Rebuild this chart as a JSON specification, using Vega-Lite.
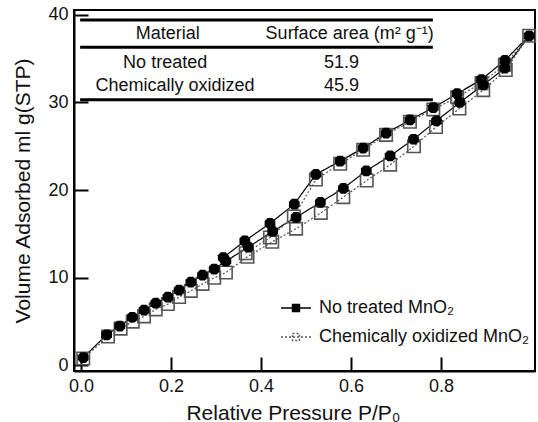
{
  "$schema": "https://vega.github.io/schema/vega-lite/v6.json",
  "width": 461,
  "height": 361,
  "autosize": {"type": "none"},
  "padding": {"left": 74, "top": 10, "right": 3, "bottom": 51},
  "background": "white",
  "config": {
    "font": "Liberation Sans",
    "view": {"stroke": "black", "strokeWidth": 2},
    "axis": {
      "domainColor": "black", "domainWidth": 2, "tickColor": "black", "tickWidth": 2,
      "tickSize": -14, "grid": false, "labelFontSize": 18, "labelColor": "#111",
      "titleFontSize": 21, "titleFontWeight": "normal", "titleColor": "#111", "labelFont": "Liberation Sans", "titleFont": "Liberation Sans"
    }
  },
  "datasets": {
    "iso": [
      {"s": "No treated MnO₂", "i": 1, "p": 0.005, "v": 0.9},
      {"s": "No treated MnO₂", "i": 2, "p": 0.057, "v": 3.5},
      {"s": "No treated MnO₂", "i": 3, "p": 0.086, "v": 4.5},
      {"s": "No treated MnO₂", "i": 4, "p": 0.114, "v": 5.5},
      {"s": "No treated MnO₂", "i": 5, "p": 0.140, "v": 6.3},
      {"s": "No treated MnO₂", "i": 6, "p": 0.166, "v": 7.1},
      {"s": "No treated MnO₂", "i": 7, "p": 0.193, "v": 7.8},
      {"s": "No treated MnO₂", "i": 8, "p": 0.218, "v": 8.6},
      {"s": "No treated MnO₂", "i": 9, "p": 0.244, "v": 9.5},
      {"s": "No treated MnO₂", "i": 10, "p": 0.270, "v": 10.3},
      {"s": "No treated MnO₂", "i": 11, "p": 0.296, "v": 11.0},
      {"s": "No treated MnO₂", "i": 12, "p": 0.322, "v": 11.9},
      {"s": "No treated MnO₂", "i": 13, "p": 0.372, "v": 13.5},
      {"s": "No treated MnO₂", "i": 14, "p": 0.426, "v": 15.3},
      {"s": "No treated MnO₂", "i": 15, "p": 0.478, "v": 16.9},
      {"s": "No treated MnO₂", "i": 16, "p": 0.532, "v": 18.6},
      {"s": "No treated MnO₂", "i": 17, "p": 0.583, "v": 20.2},
      {"s": "No treated MnO₂", "i": 18, "p": 0.634, "v": 22.2},
      {"s": "No treated MnO₂", "i": 19, "p": 0.687, "v": 23.9},
      {"s": "No treated MnO₂", "i": 20, "p": 0.739, "v": 25.8},
      {"s": "No treated MnO₂", "i": 21, "p": 0.790, "v": 27.9},
      {"s": "No treated MnO₂", "i": 22, "p": 0.842, "v": 30.0},
      {"s": "No treated MnO₂", "i": 23, "p": 0.894, "v": 32.0},
      {"s": "No treated MnO₂", "i": 24, "p": 0.942, "v": 33.9},
      {"s": "No treated MnO₂", "i": 25, "p": 0.996, "v": 37.6},
      {"s": "No treated MnO₂", "i": 26, "p": 0.942, "v": 34.8},
      {"s": "No treated MnO₂", "i": 27, "p": 0.890, "v": 32.6},
      {"s": "No treated MnO₂", "i": 28, "p": 0.836, "v": 31.0},
      {"s": "No treated MnO₂", "i": 29, "p": 0.783, "v": 29.4},
      {"s": "No treated MnO₂", "i": 30, "p": 0.731, "v": 28.0},
      {"s": "No treated MnO₂", "i": 31, "p": 0.678, "v": 26.5},
      {"s": "No treated MnO₂", "i": 32, "p": 0.627, "v": 24.8},
      {"s": "No treated MnO₂", "i": 33, "p": 0.576, "v": 23.3},
      {"s": "No treated MnO₂", "i": 34, "p": 0.522, "v": 21.8},
      {"s": "No treated MnO₂", "i": 35, "p": 0.474, "v": 18.4},
      {"s": "No treated MnO₂", "i": 36, "p": 0.420, "v": 16.2},
      {"s": "No treated MnO₂", "i": 37, "p": 0.364, "v": 14.2},
      {"s": "No treated MnO₂", "i": 38, "p": 0.316, "v": 12.3},
      {"s": "Chemically oxidized MnO₂", "i": 1, "p": 0.005, "v": 0.8},
      {"s": "Chemically oxidized MnO₂", "i": 2, "p": 0.060, "v": 3.3},
      {"s": "Chemically oxidized MnO₂", "i": 3, "p": 0.088, "v": 4.2},
      {"s": "Chemically oxidized MnO₂", "i": 4, "p": 0.115, "v": 5.0},
      {"s": "Chemically oxidized MnO₂", "i": 5, "p": 0.140, "v": 5.6},
      {"s": "Chemically oxidized MnO₂", "i": 6, "p": 0.166, "v": 6.4},
      {"s": "Chemically oxidized MnO₂", "i": 7, "p": 0.193, "v": 7.0},
      {"s": "Chemically oxidized MnO₂", "i": 8, "p": 0.218, "v": 7.8},
      {"s": "Chemically oxidized MnO₂", "i": 9, "p": 0.244, "v": 8.5},
      {"s": "Chemically oxidized MnO₂", "i": 10, "p": 0.270, "v": 9.3},
      {"s": "Chemically oxidized MnO₂", "i": 11, "p": 0.296, "v": 10.0},
      {"s": "Chemically oxidized MnO₂", "i": 12, "p": 0.322, "v": 10.6},
      {"s": "Chemically oxidized MnO₂", "i": 13, "p": 0.370, "v": 12.4},
      {"s": "Chemically oxidized MnO₂", "i": 14, "p": 0.425, "v": 14.1},
      {"s": "Chemically oxidized MnO₂", "i": 15, "p": 0.478, "v": 15.6},
      {"s": "Chemically oxidized MnO₂", "i": 16, "p": 0.533, "v": 17.4},
      {"s": "Chemically oxidized MnO₂", "i": 17, "p": 0.583, "v": 19.2},
      {"s": "Chemically oxidized MnO₂", "i": 18, "p": 0.635, "v": 21.1},
      {"s": "Chemically oxidized MnO₂", "i": 19, "p": 0.687, "v": 22.9},
      {"s": "Chemically oxidized MnO₂", "i": 20, "p": 0.740, "v": 25.0},
      {"s": "Chemically oxidized MnO₂", "i": 21, "p": 0.789, "v": 27.2},
      {"s": "Chemically oxidized MnO₂", "i": 22, "p": 0.841, "v": 29.3},
      {"s": "Chemically oxidized MnO₂", "i": 23, "p": 0.894, "v": 31.4},
      {"s": "Chemically oxidized MnO₂", "i": 24, "p": 0.944, "v": 33.7},
      {"s": "Chemically oxidized MnO₂", "i": 25, "p": 0.996, "v": 37.6},
      {"s": "Chemically oxidized MnO₂", "i": 26, "p": 0.942, "v": 34.3},
      {"s": "Chemically oxidized MnO₂", "i": 27, "p": 0.890, "v": 32.2},
      {"s": "Chemically oxidized MnO₂", "i": 28, "p": 0.836, "v": 30.6},
      {"s": "Chemically oxidized MnO₂", "i": 29, "p": 0.783, "v": 29.2},
      {"s": "Chemically oxidized MnO₂", "i": 30, "p": 0.731, "v": 27.8},
      {"s": "Chemically oxidized MnO₂", "i": 31, "p": 0.678, "v": 26.3},
      {"s": "Chemically oxidized MnO₂", "i": 32, "p": 0.627, "v": 24.6},
      {"s": "Chemically oxidized MnO₂", "i": 33, "p": 0.576, "v": 23.0},
      {"s": "Chemically oxidized MnO₂", "i": 34, "p": 0.522, "v": 21.2},
      {"s": "Chemically oxidized MnO₂", "i": 35, "p": 0.473, "v": 17.0},
      {"s": "Chemically oxidized MnO₂", "i": 36, "p": 0.420, "v": 14.6},
      {"s": "Chemically oxidized MnO₂", "i": 37, "p": 0.366, "v": 12.8}
    ],
    "rules": [
      {"x1": -0.002, "x2": 0.782, "y": 39.4},
      {"x1": -0.002, "x2": 0.782, "y": 36.3},
      {"x1": -0.002, "x2": 0.782, "y": 30.3}
    ],
    "table": [
      {"x": 0.193, "y": 37.8, "t": "Material"},
      {"x": 0.597, "y": 37.8, "t": "Surface area (m² g⁻¹)"},
      {"x": 0.187, "y": 34.5, "t": "No treated"},
      {"x": 0.209, "y": 31.9, "t": "Chemically oxidized"},
      {"x": 0.579, "y": 34.5, "t": "51.9"},
      {"x": 0.579, "y": 31.9, "t": "45.9"}
    ]
  },
  "encoding": {
    "x": {"type": "quantitative", "scale": {"domain": [-0.0156, 1.009], "nice": false, "zero": false},
      "axis": {"title": "Relative Pressure P/P₀", "values": [0, 0.2, 0.4, 0.6, 0.8], "format": ".1f", "labelPadding": 20, "titlePadding": 7, "titleX": 219}},
    "y": {"type": "quantitative", "scale": {"domain": [-0.63, 40.54], "nice": false, "zero": false},
      "axis": {"title": "Volume Adsorbed ml g(STP)", "values": [0, 10, 20, 30, 40], "labelPadding": 20, "titlePadding": 14}}
  },
  "layer": [
    {
      "data": {"name": "iso"},
      "mark": {"type": "line", "strokeWidth": 1.2},
      "encoding": {
        "x": {"field": "p"},
        "y": {"field": "v"},
        "order": {"field": "i"},
        "stroke": {"field": "s", "type": "nominal",
          "scale": {"domain": ["No treated MnO₂", "Chemically oxidized MnO₂"], "range": ["black", "#555555"]},
          "legend": {"title": null, "orient": "none", "legendX": 206, "legendY": 282,
            "symbolType": "M-1,0H1M-0.23,-0.23H0.23V0.23H-0.23Z", "symbolSize": 900, "symbolStrokeWidth": 1.5,
            "labelFontSize": 18, "labelColor": "#111", "labelOffset": 7, "labelLimit": 400, "rowPadding": 4, "labelFont": "Liberation Sans",
            "encode": {"symbols": {"update": {"fill": {"signal": "datum.value === 'No treated MnO₂' ? 'black' : 'white'"}}}}}},
        "strokeDash": {"field": "s", "type": "nominal",
          "scale": {"domain": ["No treated MnO₂", "Chemically oxidized MnO₂"], "range": [[1, 0], [2, 2]]},
          "legend": null}
      }
    },
    {
      "data": {"name": "iso"},
      "transform": [{"filter": "datum.s === 'Chemically oxidized MnO₂'"}],
      "mark": {"type": "point", "shape": "square", "size": 155, "filled": false, "stroke": "#555555", "strokeWidth": 1.6, "opacity": 1},
      "encoding": {"x": {"field": "p"}, "y": {"field": "v"}}
    },
    {
      "data": {"name": "iso"},
      "transform": [{"filter": "datum.s === 'No treated MnO₂'"}],
      "mark": {"type": "point", "shape": "M-1,-0.45L-0.45,-1H0.45L1,-0.45V0.45L0.45,1H-0.45L-1,0.45Z", "size": 115, "filled": true, "fill": "black", "opacity": 1},
      "encoding": {"x": {"field": "p"}, "y": {"field": "v"}}
    },
    {
      "data": {"name": "rules"},
      "mark": {"type": "rule", "stroke": "black", "strokeWidth": 3},
      "encoding": {"x": {"field": "x1"}, "x2": {"field": "x2"}, "y": {"field": "y"}}
    },
    {
      "data": {"name": "table"},
      "mark": {"type": "text", "fontSize": 18, "fill": "#111", "align": "center", "baseline": "middle", "font": "Liberation Sans"},
      "encoding": {"x": {"field": "x"}, "y": {"field": "y"}, "text": {"field": "t"}}
    }
  ]
}
